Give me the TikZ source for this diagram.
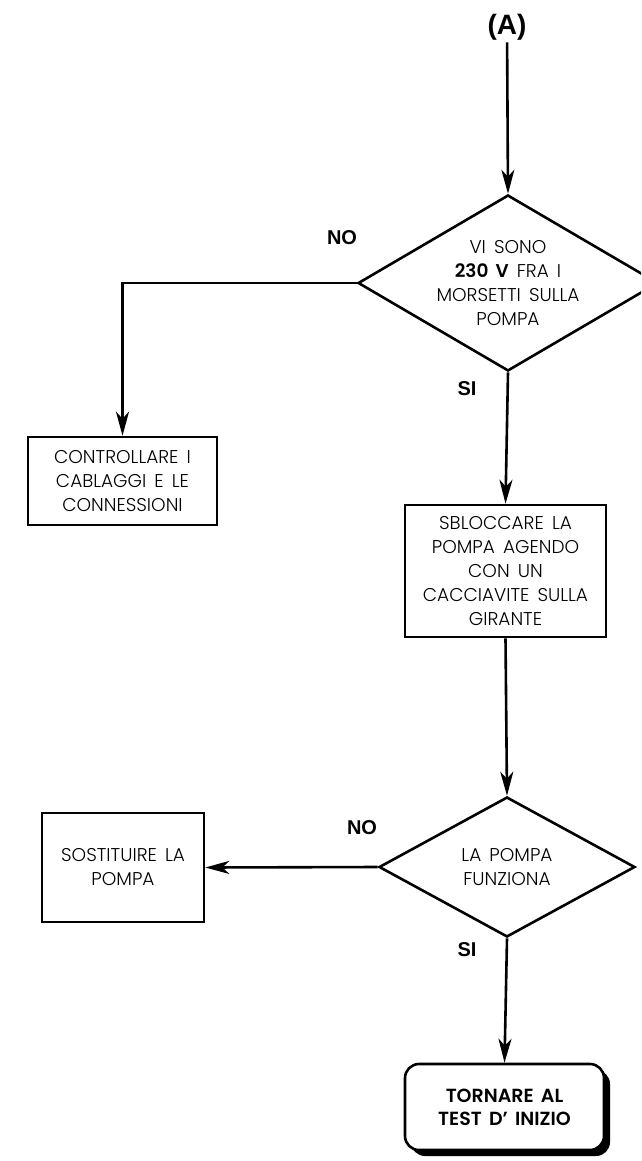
\documentclass[tikz,border=0pt]{standalone}
\usepackage{fontspec}
\setmainfont{Poppins}[UprightFont=* Light, BoldFont=* SemiBold, WordSpace=1.6]
\newfontfamily\labelfont{Liberation Sans}
\usetikzlibrary{shapes.geometric,arrows.meta,shadows}

\begin{document}
\begin{tikzpicture}[x=1pt,y=-1pt,
  line width=2.6pt,
  flow/.style={-{Stealth[length=24pt,width=13pt,inset=7pt]}},
  txt/.style={font=\fontsize{18.5}{24}\selectfont, align=center},
  actionbox/.style={draw, rectangle, inner sep=0pt, txt,
    minimum width=#1},
  decision/.style={draw, diamond, inner sep=0pt},
  answer/.style={font=\labelfont\bfseries\fontsize{20}{22}\selectfont, inner sep=0pt},
  endbox/.style={draw, rectangle, rounded corners=14pt, fill=white,
    inner sep=0pt, align=center,
    font=\bfseries\fontsize{19}{23}\selectfont,
    drop shadow={shadow xshift=6pt, shadow yshift=-6pt, opacity=1, fill=black}}
]
\useasboundingbox (0,0) rectangle (641,1161);
\clip (0,0) rectangle (641,1161);

% entry point
\node[font=\labelfont\bfseries\fontsize{28}{30}\selectfont, inner sep=1pt] (A) at (507,27) {(A)};

% first check: supply voltage at the pump terminals
\node[decision, minimum width=300pt, minimum height=176pt,
  label={[txt]center:{VI SONO\\ \textbf{230 V} FRA I\\ MORSETTI SULLA\\ POMPA}}] (d1) at (508,283) {};
\node[answer] (no1) at (342,238) {NO};
\node[answer] (si1) at (467,389) {SI};

\node[actionbox=189pt, minimum height=88pt] (b1) at (122.5,481)
  {CONTROLLARE I\\ CABLAGGI E LE\\ CONNESSIONI};

\node[actionbox=201pt, minimum height=132pt] (b2) at (505.5,571)
  {SBLOCCARE LA\\ POMPA AGENDO\\ CON UN\\ CACCIAVITE SULLA\\ GIRANTE};

% second check: does the pump run
\node[decision, minimum width=256pt, minimum height=140pt,
  label={[txt]center:{LA POMPA\\ FUNZIONA}}] (d2) at (507,867) {};
\node[answer] (no2) at (362,828) {NO};
\node[answer] (si2) at (467,950) {SI};

\node[actionbox=162pt, minimum height=109pt] (b3) at (123,867.5)
  {SOSTITUIRE LA\\ POMPA};

\node[endbox, minimum width=199pt, minimum height=86pt] (e) at (504.5,1107)
  {TORNARE AL\\ TEST D' INIZIO};

% connectors
\draw[flow] (A) -- (d1.north);
\draw[flow] (d1.west) -| (b1.north);
\draw[flow] (d1.south) -- (b2.north);
\draw[flow] (b2.south) -- (d2.north);
\draw[flow] (d2.west) -- (b3.east);
\draw[flow] (d2.south) -- (e.north);
\end{tikzpicture}
\end{document}
